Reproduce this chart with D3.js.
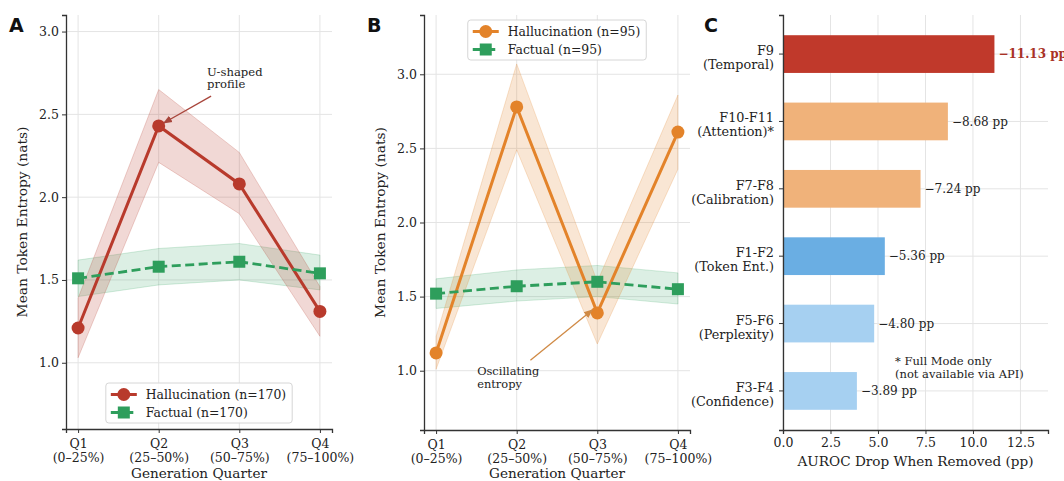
<!DOCTYPE html>
<html>
<head>
<meta charset="utf-8">
<script src="https://cdn.jsdelivr.net/npm/d3@7"></script>
<style>
  body { margin: 0; background: #fff; }
  text { font-family: "DejaVu Serif", serif; fill: #222; }
  .panel-label { font-family: "DejaVu Sans", sans-serif; font-weight: bold; font-size: 19px; fill: #111; }
</style>
</head>
<body>
<div id="chart"></div>
<script>
// data
var quarters = ["Q1", "Q2", "Q3", "Q4"];
var quarterRanges = ["(0\u201325%)", "(25\u201350%)", "(50\u201375%)", "(75\u2013100%)"];
var entropyTicks = [1.0, 1.5, 2.0, 2.5, 3.0];

// panel A (n=170)
var hallA = [1.21, 2.43, 2.08, 1.31];
var hallALo = [1.03, 2.21, 1.90, 1.16];
var hallAHi = [1.39, 2.65, 2.27, 1.46];
var factA = [1.51, 1.58, 1.61, 1.54];
var factALo = [1.40, 1.47, 1.50, 1.44];
var factAHi = [1.62, 1.69, 1.72, 1.65];

// panel B (n=95)
var hallB = [1.12, 2.78, 1.39, 2.61];
var hallBLo = [1.01, 2.49, 1.18, 2.36];
var hallBHi = [1.23, 3.07, 1.60, 2.86];
var factB = [1.52, 1.57, 1.60, 1.55];
var factBLo = [1.42, 1.47, 1.50, 1.45];
var factBHi = [1.62, 1.68, 1.71, 1.66];

// panel C
var featGroups = ["F9", "F10-F11", "F7-F8", "F1-F2", "F5-F6", "F3-F4"];
var featNames = ["(Temporal)", "(Attention)*", "(Calibration)", "(Token Ent.)", "(Perplexity)", "(Confidence)"];
var aurocDrop = [11.13, 8.68, 7.24, 5.36, 4.80, 3.89];
var dropTicks = [0, 2.5, 5, 7.5, 10, 12.5];

var svgWidth = 1064;
var svgHeight = 481;

var red = "#b83a2c";
var green = "#2e9e5c";
var orange = "#e3832a";
var gridColor = "#e4e4e4";
var spineColor = "#333";

var svg = d3.select("#chart")
  .append("svg")
  .attr("width", svgWidth)
  .attr("height", svgHeight);

var defs = svg.append("defs");
function arrowHead(id, color) {
  defs.append("marker")
    .attr("id", id)
    .attr("viewBox", "0 0 10 10")
    .attr("refX", 9).attr("refY", 5)
    .attr("markerWidth", 7).attr("markerHeight", 7)
    .attr("orient", "auto")
    .append("path")
    .attr("d", "M0,1 L10,5 L0,9 Z")
    .attr("fill", color);
}
arrowHead("arrRed", "#a8453b");
arrowHead("arrOrange", "#d08a45");

function linePanel(box, cfg) {
  var x = d3.scaleLinear().domain([-0.15, 3.15]).range([box.left, box.right]);
  var y = d3.scaleLinear().domain([0.6, cfg.yMax]).range([box.bottom, box.top]);
  var g = svg.append("g");

  // grid
  g.selectAll(".gx").data(quarters).enter().append("line")
    .attr("x1", (d, i) => x(i)).attr("x2", (d, i) => x(i))
    .attr("y1", box.top).attr("y2", box.bottom)
    .attr("stroke", gridColor).attr("stroke-width", 1);
  g.selectAll(".gy").data(entropyTicks).enter().append("line")
    .attr("x1", box.left).attr("x2", box.right)
    .attr("y1", d => y(d)).attr("y2", d => y(d))
    .attr("stroke", gridColor).attr("stroke-width", 1);

  var idx = d3.range(4);
  var band = (lo, hi) => d3.area().x(i => x(i)).y0(i => y(lo[i])).y1(i => y(hi[i]));
  var line = (vals) => d3.line().x(i => x(i)).y(i => y(vals[i]));

  // factual band + hallucination band
  g.append("path").datum(idx).attr("d", band(cfg.factLo, cfg.factHi))
    .attr("fill", green).attr("fill-opacity", 0.17)
    .attr("stroke", green).attr("stroke-opacity", 0.2);
  g.append("path").datum(idx).attr("d", band(cfg.hallLo, cfg.hallHi))
    .attr("fill", cfg.hallColor).attr("fill-opacity", 0.2)
    .attr("stroke", cfg.hallColor).attr("stroke-opacity", 0.22);

  // hallucination line
  g.append("path").datum(idx).attr("d", line(cfg.hall))
    .attr("fill", "none").attr("stroke", cfg.hallColor).attr("stroke-width", 3);
  g.selectAll(".hm").data(idx).enter().append("circle")
    .attr("cx", i => x(i)).attr("cy", i => y(cfg.hall[i]))
    .attr("r", 6.5).attr("fill", cfg.hallColor);

  // factual line
  g.append("path").datum(idx).attr("d", line(cfg.fact))
    .attr("fill", "none").attr("stroke", green).attr("stroke-width", 2.8)
    .attr("stroke-dasharray", "9,4.5");
  g.selectAll(".fm").data(idx).enter().append("rect")
    .attr("x", i => x(i) - 6).attr("y", i => y(cfg.fact[i]) - 6)
    .attr("width", 12).attr("height", 12).attr("fill", green);

  // axes
  var bottomAxis = d3.axisBottom(x).tickValues(idx).tickSize(4).tickFormat("");
  var ax = g.append("g").attr("transform", `translate(0, ${box.bottom})`).call(bottomAxis);
  ax.select(".domain").attr("stroke", spineColor).attr("stroke-width", 1.3);
  ax.selectAll(".tick line").attr("stroke", spineColor);
  ax.selectAll(".tick").append("text")
    .attr("y", 19).attr("text-anchor", "middle").attr("font-size", "12.5px").attr("fill", "#222")
    .text(i => quarters[i]);
  ax.selectAll(".tick").append("text")
    .attr("y", 33).attr("text-anchor", "middle").attr("font-size", "12.5px").attr("fill", "#222")
    .text(i => quarterRanges[i]);

  var leftAxis = d3.axisLeft(y).tickValues(entropyTicks).tickSize(4).tickFormat(d3.format(".1f"));
  var ay = g.append("g").attr("transform", `translate(${box.left}, 0)`).call(leftAxis);
  ay.select(".domain").attr("stroke", spineColor).attr("stroke-width", 1.3);
  ay.selectAll(".tick line").attr("stroke", spineColor);
  ay.selectAll(".tick text").attr("font-size", "12.5px").attr("font-family", "DejaVu Serif").attr("fill", "#222");

  // axis titles
  g.append("text")
    .attr("transform", `translate(${box.left - 44}, ${(box.top + box.bottom) / 2}) rotate(-90)`)
    .attr("text-anchor", "middle").attr("dy", "0.35em").attr("font-size", "13.8px")
    .text("Mean Token Entropy (nats)");
  g.append("text")
    .attr("x", (box.left + box.right) / 2).attr("y", 478)
    .attr("text-anchor", "middle").attr("font-size", "13.6px")
    .text("Generation Quarter");

  // legend
  var rows = [
    { label: "Hallucination (n=" + cfg.n + ")", color: cfg.hallColor, shape: "circle", dash: null },
    { label: "Factual (n=" + cfg.n + ")", color: green, shape: "square", dash: "9,4.5" }
  ];
  var leg = g.append("g");
  var frame = leg.append("rect").attr("rx", 3)
    .attr("fill", "#fff").attr("fill-opacity", 0.85).attr("stroke", "#d6d6d6");
  var maxLen = 0;
  rows.forEach(function(r, k) {
    var cy = 11.5 + k * 18;
    leg.append("line").attr("x1", 5).attr("x2", 31).attr("y1", cy).attr("y2", cy)
      .attr("stroke", r.color).attr("stroke-width", r.shape === "circle" ? 3 : 2.8)
      .attr("stroke-dasharray", r.dash);
    if (r.shape === "circle") {
      leg.append("circle").attr("cx", 18).attr("cy", cy).attr("r", 6.5).attr("fill", r.color);
    } else {
      leg.append("rect").attr("x", 12).attr("y", cy - 6).attr("width", 12).attr("height", 12).attr("fill", r.color);
    }
    var t = leg.append("text").attr("x", 40).attr("y", cy).attr("dy", "0.35em")
      .attr("font-size", "12.4px").text(r.label);
    maxLen = Math.max(maxLen, t.node().getComputedTextLength());
  });
  var lw = 40 + maxLen + 6, lh = 40;
  frame.attr("width", lw).attr("height", lh);
  var lx = (box.left + box.right) / 2 - lw / 2;
  var ly = cfg.legendTop ? box.top + 5 : box.bottom - lh - 6;
  leg.attr("transform", `translate(${lx}, ${ly})`);

  // panel letter
  svg.append("text").attr("class", "panel-label")
    .attr("x", box.left - 57).attr("y", 32).text(cfg.letter);

  return { x: x, y: y, g: g };
}

var pA = linePanel({ left: 66, right: 332, top: 15, bottom: 429 }, {
  letter: "A", n: 170, yMax: 3.1, hallColor: red,
  hall: hallA, hallLo: hallALo, hallHi: hallAHi,
  fact: factA, factLo: factALo, factHi: factAHi, legendTop: false
});

var pB = linePanel({ left: 424, right: 690, top: 15, bottom: 430 }, {
  letter: "B", n: 95, yMax: 3.4, hallColor: orange,
  hall: hallB, hallLo: hallBLo, hallHi: hallBHi,
  fact: factB, factLo: factBLo, factHi: factBHi, legendTop: true
});

// annotations
var annA = pA.g.append("g");
annA.append("text").attr("x", pA.x(1.6)).attr("y", pA.y(2.73)).attr("font-size", "11.6px")
  .attr("fill", "#a8453b").text("U-shaped");
annA.append("text").attr("x", pA.x(1.6)).attr("y", pA.y(2.73) + 12).attr("font-size", "11.6px")
  .attr("fill", "#a8453b").text("profile");
annA.append("line")
  .attr("x1", pA.x(1.65)).attr("y1", pA.y(2.61))
  .attr("x2", pA.x(1) + 5).attr("y2", pA.y(hallA[1]) - 3)
  .attr("stroke", "#a8453b").attr("stroke-width", 1.3).attr("marker-end", "url(#arrRed)");

var annB = pB.g.append("g");
annB.append("text").attr("x", pB.x(0.51)).attr("y", pB.y(1.0) + 4).attr("font-size", "11.4px")
  .attr("fill", "#d08a45").text("Oscillating");
annB.append("text").attr("x", pB.x(0.51)).attr("y", pB.y(1.0) + 17).attr("font-size", "11.4px")
  .attr("fill", "#d08a45").text("entropy");
annB.append("line")
  .attr("x1", pB.x(1.17)).attr("y1", pB.y(1.07))
  .attr("x2", pB.x(2) - 5).attr("y2", pB.y(hallB[2]) - 3)
  .attr("stroke", "#d08a45").attr("stroke-width", 1.3).attr("marker-end", "url(#arrOrange)");

// panel C
var boxC = { left: 783, right: 1048, top: 15, bottom: 430 };
var barColors = ["#c0392b", "#f0b27a", "#f0b27a", "#6aaee3", "#a6d0f1", "#a6d0f1"];

var xC = d3.scaleLinear().domain([0, 13.95]).range([boxC.left, boxC.right]);
var yC = d3.scaleBand().domain(featGroups).range([boxC.top, boxC.bottom]).paddingInner(0.44).paddingOuter(0.3);
var gC = svg.append("g");

gC.selectAll(".gx").data(dropTicks).enter().append("line")
  .attr("x1", d => xC(d)).attr("x2", d => xC(d))
  .attr("y1", boxC.top).attr("y2", boxC.bottom)
  .attr("stroke", gridColor);
gC.selectAll(".gy").data(featGroups).enter().append("line")
  .attr("x1", boxC.left).attr("x2", boxC.right)
  .attr("y1", d => yC(d) + yC.bandwidth() / 2).attr("y2", d => yC(d) + yC.bandwidth() / 2)
  .attr("stroke", gridColor);

gC.selectAll(".bar").data(featGroups).enter().append("rect")
  .attr("x", xC(0)).attr("y", d => yC(d))
  .attr("width", (d, i) => xC(aurocDrop[i]) - xC(0))
  .attr("height", yC.bandwidth())
  .attr("fill", (d, i) => barColors[i]);

gC.selectAll(".val").data(featGroups).enter().append("text")
  .attr("x", (d, i) => xC(aurocDrop[i]) + 4)
  .attr("y", d => yC(d) + yC.bandwidth() / 2)
  .attr("dy", "0.35em").attr("font-size", "12px")
  .attr("font-weight", (d, i) => i === 0 ? "bold" : "normal")
  .style("fill", (d, i) => i === 0 ? "#a93226" : "#222")
  .text((d, i) => "\u2212" + aurocDrop[i].toFixed(2) + " pp");

var axC = gC.append("g").attr("transform", `translate(0, ${boxC.bottom})`)
  .call(d3.axisBottom(xC).tickValues(dropTicks).tickSize(4).tickFormat(d3.format(".1f")));
axC.select(".domain").attr("stroke", spineColor).attr("stroke-width", 1.3);
axC.selectAll(".tick line").attr("stroke", spineColor);
axC.selectAll(".tick text").attr("font-size", "12.5px").attr("font-family", "DejaVu Serif").attr("fill", "#222").attr("y", 8);

var ayC = gC.append("g").attr("transform", `translate(${boxC.left}, 0)`)
  .call(d3.axisLeft(yC).tickSize(4).tickFormat(""));
ayC.select(".domain").attr("stroke", spineColor).attr("stroke-width", 1.3);
ayC.selectAll(".tick line").attr("stroke", spineColor);
ayC.selectAll(".tick").append("text")
  .attr("x", -9).attr("y", 1).attr("text-anchor", "end").attr("font-size", "12.8px").attr("fill", "#222")
  .text(d => d);
ayC.selectAll(".tick").append("text")
  .attr("x", -9).attr("y", 15).attr("text-anchor", "end").attr("font-size", "12.8px").attr("fill", "#222")
  .text((d, i) => featNames[i]);

gC.append("text").attr("x", (boxC.left + boxC.right) / 2).attr("y", 466)
  .attr("text-anchor", "middle").attr("font-size", "13.6px")
  .text("AUROC Drop When Removed (pp)");

gC.append("text").attr("x", 895).attr("y", 365).attr("font-size", "11.5px").text("* Full Mode only");
gC.append("text").attr("x", 895).attr("y", 378).attr("font-size", "11.5px").text("(not available via API)");

svg.append("text").attr("class", "panel-label").attr("x", 704).attr("y", 32).text("C");
</script>
</body>
</html>
